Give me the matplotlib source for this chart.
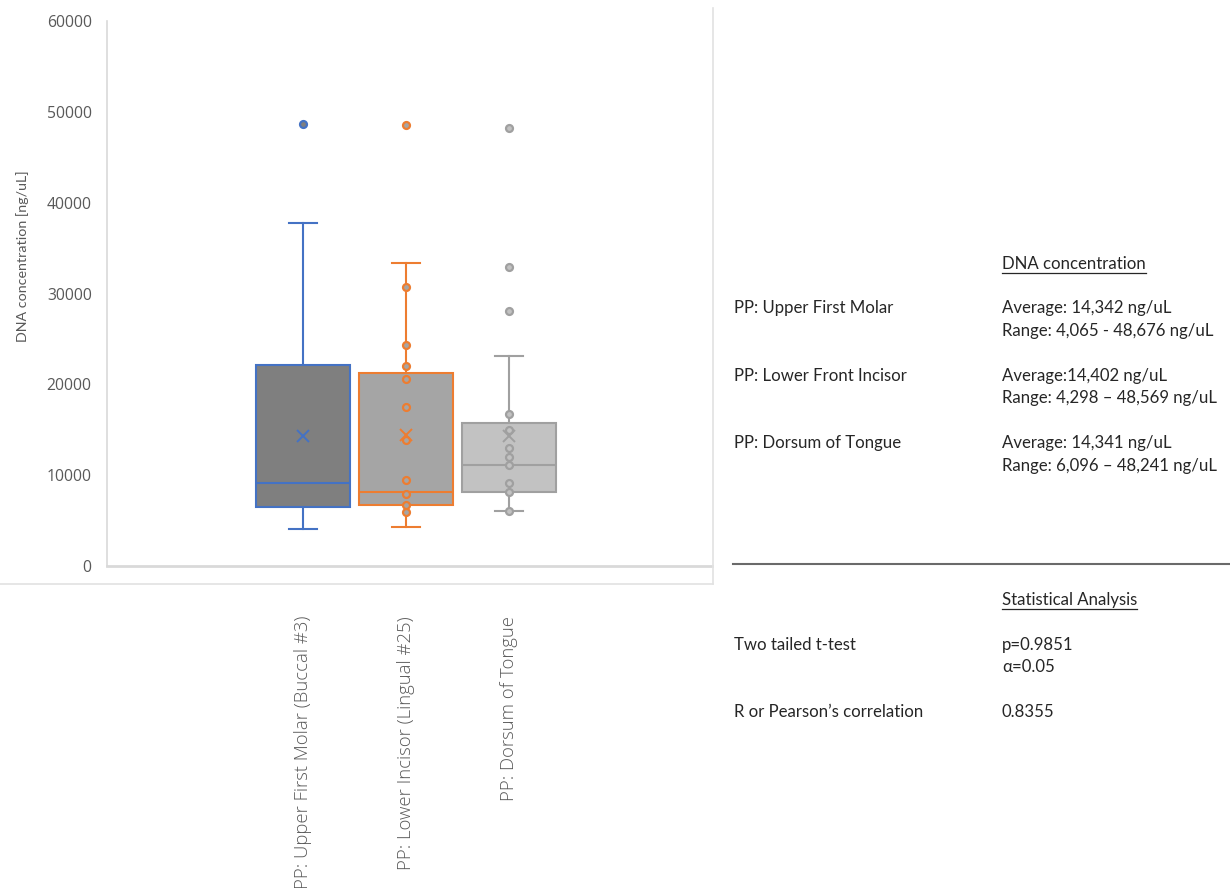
import matplotlib
matplotlib.use("Agg")
import matplotlib.pyplot as plt
from matplotlib.lines import Line2D

W, H = 1230, 888

# ---- data -------------------------------------------------------------
categories = ["PP: Upper First Molar (Buccal #3)",
              "PP: Lower Incisor (Lingual #25)",
              "PP: Dorsum of Tongue"]
whisker_low = [4065, 4298, 6096]
q1 = [6459, 6752, 8092]
median = [9170, 8183, 11119]
q3 = [22128, 21283, 15776]
whisker_high = [37728, 33357, 23119]
means = [14342, 14402, 14341]
outliers = [[48676], [48569], [48241, 32951, 28038]]
inner_points = [[],
                [5912, 6716, 7893, 9501, 13871, 17504, 20587, 22018, 24364, 30682],
                [6096, 8092, 9101, 11119, 11965, 13025, 14972, 16734]]
yticks = [0, 10000, 20000, 30000, 40000, 50000, 60000]

# ---- styles -----------------------------------------------------------
edge_colors = ["#4472C4", "#ED7D31", "#A0A0A0"]
fill_colors = ["#7F7F7F", "#A5A5A5", "#C2C2C2"]
axis_grey = "#595959"

fig = plt.figure(figsize=(W / 100, H / 100), dpi=100)
fig.patch.set_facecolor("white")

ax = fig.add_axes([107 / W, 1 - 566 / H, (712 - 107) / W, (566 - 21) / H])

positions = [1, 2, 3]
stats = []
for i in range(3):
    stats.append(dict(med=median[i], q1=q1[i], q3=q3[i],
                      whislo=whisker_low[i], whishi=whisker_high[i],
                      mean=means[i], fliers=outliers[i], label=categories[i]))

bp = ax.bxp(stats, positions=positions, widths=0.91, showmeans=True,
            patch_artist=True, capwidths=0.27, manage_ticks=False)

for i in range(3):
    ec, fc = edge_colors[i], fill_colors[i]
    bp["boxes"][i].set(facecolor=fc, edgecolor=ec, linewidth=1.5, zorder=2)
    bp["medians"][i].set(color=ec, linewidth=1.5, zorder=3)
    for ln in bp["whiskers"][2 * i:2 * i + 2] + bp["caps"][2 * i:2 * i + 2]:
        ln.set(color=ec, linewidth=1.5, zorder=1)
    bp["fliers"][i].set(marker="o", markersize=5, markerfacecolor=fc,
                        markeredgecolor=ec, markeredgewidth=1.6, zorder=4)
    bp["means"][i].set(marker="x", markersize=9, markeredgecolor=ec,
                       markeredgewidth=1.4, zorder=5)
    if inner_points[i]:
        ax.plot([positions[i]] * len(inner_points[i]), inner_points[i],
                linestyle="none", marker="o", markersize=5,
                markerfacecolor=fc, markeredgecolor=ec,
                markeredgewidth=1.6, zorder=4)

ax.set_xlim(1 - (303 - 107) / 103, 3 + (712 - 509) / 103)
ax.set_ylim(0, 60000)
ax.set_yticks(yticks)
ax.set_yticklabels([str(v) for v in yticks], fontfamily="Open Sans",
                   fontsize=11.3, color=axis_grey)
ax.set_xticks(positions)
ax.set_xticklabels(categories, rotation=90, fontfamily="Open Sans",
                   fontweight="light", fontsize=13.3, color=axis_grey,
                   va="top", ha="center")
ax.tick_params(axis="y", length=0, pad=11)
ax.tick_params(axis="x", length=0, pad=36)
ax.set_ylabel("DNA concentration [ng/uL]", fontfamily="Lato", fontsize=10.3,
              color=axis_grey)
ax.yaxis.set_label_coords(-(107 - 29) / 605, 0.5 + (293.5 - 256) / 545)

for side in ("top", "right"):
    ax.spines[side].set_visible(False)
ax.spines["left"].set(color="#D9D9D9", linewidth=1.2)
ax.spines["bottom"].set(color="#D9D9D9", linewidth=2)
ax.set_facecolor("none")

# chart-area frame
fig.add_artist(Line2D([713 / W, 713 / W], [1 - 8 / H, 1 - 584 / H],
                      color="#E2E2E2", linewidth=1.2))
fig.add_artist(Line2D([0, 713 / W], [1 - 584 / H, 1 - 584 / H],
                      color="#E2E2E2", linewidth=1.2))


# ---- summary text panel ----------------------------------------------
def put(x, y, s, underline=False):
    t = fig.text(x / W, 1 - y / H, s, fontfamily="Lato", fontsize=12.1,
                 color="#262626", va="center", ha="left")
    if underline:
        fig.canvas.draw()
        bb = t.get_window_extent(renderer=fig.canvas.get_renderer())
        yy = 1 - (y + 9) / H
        fig.add_artist(Line2D([bb.x0 / W, bb.x1 / W], [yy, yy],
                              color="#262626", linewidth=0.9))
    return t


put(1002, 264, "DNA concentration", underline=True)
put(734, 308, "PP: Upper First Molar")
put(1002, 308, "Average: 14,342 ng/uL")
put(1002, 331, "Range: 4,065 - 48,676 ng/uL")
put(734, 376, "PP: Lower Front Incisor")
put(1002, 376, "Average:14,402 ng/uL")
put(1002, 398, "Range: 4,298 \u2013 48,569 ng/uL")
put(734, 443, "PP: Dorsum of Tongue")
put(1002, 443, "Average: 14,341 ng/uL")
put(1002, 466, "Range: 6,096 \u2013 48,241 ng/uL")

fig.add_artist(Line2D([733 / W, 1 - 0.5 / W], [1 - 564 / H, 1 - 564 / H],
                      color="#6A6A6A", linewidth=1.5))

put(1002, 600, "Statistical Analysis", underline=True)
put(734, 645, "Two tailed t-test")
put(1002, 645, "p=0.9851")
put(1002, 667, "\u03b1=0.05")
put(734, 712, "R or Pearson\u2019s correlation")
put(1002, 712, "0.8355")

fig.savefig("out.png", dpi=100, facecolor="white")
